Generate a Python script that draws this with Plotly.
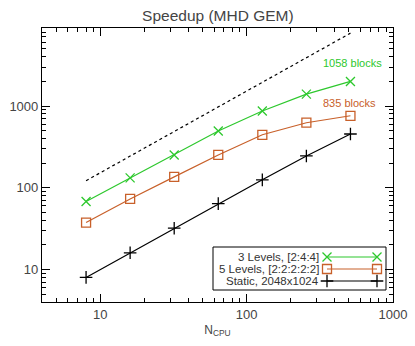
import plotly.graph_objects as go

ncpu = [8, 16, 32, 64, 128, 256, 512]
levels3 = [68, 132, 252, 495, 870, 1400, 2000]
levels5 = [37.5, 73, 136, 252, 445, 625, 760]
static = [8, 16, 32, 64, 125, 245, 455]
ideal_x = [8, 512]
ideal_y = [122, 7800]

names = ["3 Levels, [2:4:4]", "5 Levels, [2:2:2:2:2]", "Static, 2048x1024"]
GREEN = "#2DC82D"
ORANGE = "#C8602A"
BLACK = "#000000"
colors = [GREEN, ORANGE, BLACK]
symbols = ["x-thin-open", "square-open", "cross-thin-open"]
sizes = [9, 9, 9]
series = [levels3, levels5, static]

L, R, T, B = 42, 393, 28, 302
PW, PH = R - L, B - T


def px(x):
    return (x - L) / PW


def py(y):
    return (B - y) / PH


fig = go.Figure()
fig.add_trace(go.Scatter(x=ideal_x, y=ideal_y, mode="lines",
                         line=dict(color="black", width=1.2, dash="dot"),
                         showlegend=False, hoverinfo="skip"))
for s, c, sym, sz in zip(series, colors, symbols, sizes):
    fig.add_trace(go.Scatter(x=ncpu, y=s, mode="lines+markers",
                             line=dict(color=c, width=1.2),
                             marker=dict(symbol=sym, size=sz, color=c,
                                         line=dict(color=c, width=1.3)),
                             showlegend=False))

# custom legend (text left of sample line) in an overlay axis
rows = [py(257), py(269), py(281)]
for r, c, sym, sz, nm in zip(rows, colors, symbols, sizes, names):
    fig.add_trace(go.Scatter(x=[px(327), px(377)], y=[r, r], mode="lines+markers",
                             xaxis="x2", yaxis="y2",
                             line=dict(color=c, width=1.2),
                             marker=dict(symbol=sym, size=sz, color=c,
                                         line=dict(color=c, width=1.3)),
                             showlegend=False, hoverinfo="skip"))
    fig.add_annotation(x=px(321), y=r, xref="paper", yref="paper", text=nm,
                       showarrow=False, xanchor="right", yanchor="middle",
                       font=dict(size=11.5, color="#333"))

fig.add_shape(type="rect", xref="paper", yref="paper",
              x0=px(213), x1=px(386), y0=py(290), y1=py(247),
              line=dict(color="black", width=1), fillcolor="white", layer="below")

fig.add_annotation(x=px(384), y=py(63), xref="paper", yref="paper",
                   text="1058 blocks", showarrow=False, xanchor="right",
                   yanchor="middle", font=dict(size=11, color=GREEN))
fig.add_annotation(x=px(378), y=py(103), xref="paper", yref="paper",
                   text="835 blocks", showarrow=False, xanchor="right",
                   yanchor="middle", font=dict(size=11, color=ORANGE))

axis_common = dict(type="log", showgrid=False, zeroline=False, showline=True,
                   linecolor="black", linewidth=1.2, mirror="allticks",
                   ticks="inside", ticklen=8, tickwidth=1, tickcolor="black",
                   automargin=False,
                   minor=dict(ticks="inside", ticklen=4, tickwidth=1,
                              tickcolor="black", dtick="D1", showgrid=False),
                   tickfont=dict(size=13, color="#444"))

fig.update_layout(
    width=415, height=346,
    margin=dict(l=L, r=415 - R, t=T, b=346 - B),
    paper_bgcolor="white", plot_bgcolor="white",
    font=dict(family="Liberation Sans, Arial, sans-serif", color="#444"),
    title=dict(text="Speedup (MHD GEM)", x=0.525, xanchor="center", y=0.955,
               yanchor="middle", font=dict(size=15.5, color="#444")),
    xaxis=dict(**axis_common, range=[0.602, 3.0],
               tickvals=[10, 100, 1000], ticktext=["10", "100", "1000"],
               title=dict(text="N<sub>CPU</sub>", font=dict(size=12, color="#444"),
                          standoff=4)),
    yaxis=dict(**axis_common, range=[0.602, 3.955],
               tickvals=[10, 100, 1000], ticktext=["10", "100", "1000"]),
    xaxis2=dict(domain=[0, 1], range=[0, 1], visible=False, overlaying="x",
                anchor="y2"),
    yaxis2=dict(domain=[0, 1], range=[0, 1], visible=False, overlaying="y",
                anchor="x2"),
    showlegend=False,
)

fig.write_html("out.html", config={"displayModeBar": False},
               post_script="document.body.style.margin='0';document.body.style.overflow='hidden';")
